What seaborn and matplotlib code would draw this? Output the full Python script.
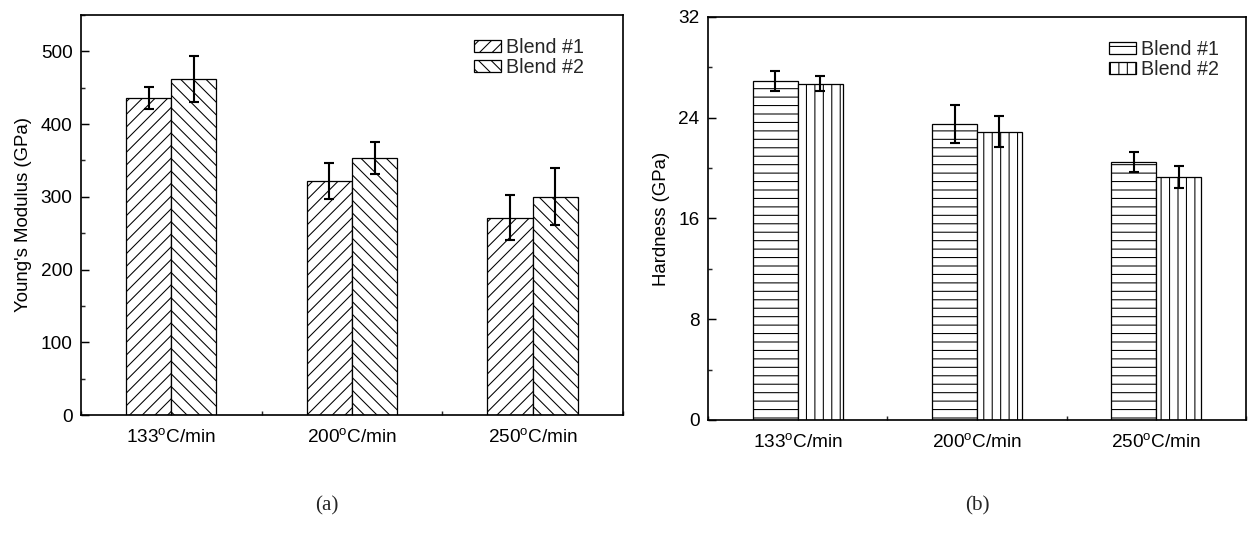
import matplotlib
matplotlib.use("Agg")
import matplotlib.pyplot as plt
from matplotlib.ticker import MultipleLocator
import seaborn as sns
import pandas as pd

categories = ["133$^{\\mathrm{o}}$C/min", "200$^{\\mathrm{o}}$C/min", "250$^{\\mathrm{o}}$C/min"]
blends = ["Blend #1", "Blend #2"]

modulus_b1 = [436, 322, 271]
modulus_b1_err = [15, 25, 31]
modulus_b2 = [462, 354, 300]
modulus_b2_err = [31, 22, 39]

hardness_b1 = [26.9, 23.5, 20.5]
hardness_b1_err = [0.8, 1.5, 0.8]
hardness_b2 = [26.7, 22.9, 19.3]
hardness_b2_err = [0.6, 1.2, 0.9]

sns.set_theme(style="white")
plt.rcParams["font.family"] = ["Liberation Sans", "DejaVu Sans"]
plt.rcParams["mathtext.fontset"] = "custom"
plt.rcParams["mathtext.rm"] = "Liberation Sans"
plt.rcParams["mathtext.it"] = "Liberation Sans:italic"
plt.rcParams["hatch.linewidth"] = 0.5
plt.rcParams["hatch.color"] = "black"

DPI = 152
fig = plt.figure(figsize=(1257 / DPI, 541 / DPI), dpi=DPI)
FS_TICK = 9.0
FS_LAB = 8.8
FS_LEG = 9.3

ax1 = fig.add_axes([0.0644, 0.2329, 0.4312, 0.7394])
ax2 = fig.add_axes([0.5633, 0.2237, 0.4279, 0.7449])


def make_df(v1, v2):
    rows = []
    for i, c in enumerate(categories):
        rows.append({"cat": c, "blend": blends[0], "val": v1[i]})
        rows.append({"cat": c, "blend": blends[1], "val": v2[i]})
    return pd.DataFrame(rows)


def draw(ax, v1, e1, v2, e2, hatches, ylim, major, minor, ylabel, legend_anchor):
    df = make_df(v1, v2)
    sns.barplot(data=df, x="cat", y="val", hue="blend", order=categories,
                hue_order=blends, palette=["white", "white"], edgecolor="black",
                linewidth=0.6, width=0.5, errorbar=None, legend=False, ax=ax)
    for cont, h, vals, errs in zip(ax.containers, hatches, [v1, v2], [e1, e2]):
        xs = []
        for bar in cont:
            bar.set_hatch(h)
            bar.set_edgecolor("black")
            xs.append(bar.get_x() + bar.get_width() / 2)
        ax.errorbar(xs, vals, yerr=errs, fmt="none", ecolor="black",
                    elinewidth=1.0, capsize=2.3, capthick=1.0, zorder=5)
    ax.set_xlim(-0.5, 2.5)
    ax.set_ylim(*ylim)
    ax.yaxis.set_major_locator(MultipleLocator(major))
    ax.yaxis.set_minor_locator(MultipleLocator(minor))
    ax.xaxis.set_minor_locator(MultipleLocator(0.5))
    ax.set_xlabel("")
    ax.set_ylabel(ylabel, fontsize=FS_LAB, color="black")
    ax.tick_params(axis="both", which="major", direction="in", length=4,
                   width=0.7, labelsize=FS_TICK, colors="black", bottom=True, left=True,
                   top=False, right=False, pad=4)
    ax.tick_params(axis="both", which="minor", direction="in", length=2,
                   width=0.7, bottom=True, left=True, top=False, right=False)
    ax.tick_params(axis="x", which="major", pad=6)
    for s in ax.spines.values():
        s.set_visible(True)
        s.set_color("black")
        s.set_linewidth(0.8)
    ax.grid(False)
    handles = list(ax.containers[:2])
    ax.legend([c[0] for c in handles], blends, loc="upper left",
              bbox_to_anchor=legend_anchor, frameon=False, fontsize=FS_LEG,
              handlelength=1.4, handleheight=0.55, handletextpad=0.25,
              labelspacing=0.05, borderaxespad=0)


draw(ax1, modulus_b1, modulus_b1_err, modulus_b2, modulus_b2_err,
     ["////", "\\\\\\\\"], (0, 550), 100, 50, "Young's Modulus (GPa)", (0.71, 0.962))
draw(ax2, hardness_b1, hardness_b1_err, hardness_b2, hardness_b2_err,
     ["---", "|||"], (0, 32), 8, 4, "Hardness (GPa)", (0.73, 0.963))

fig.text(327 / 1257, 1 - 506 / 541, "(a)", family="Liberation Serif",
         fontsize=10, ha="center", va="center")
fig.text(977 / 1257, 1 - 506 / 541, "(b)", family="Liberation Serif",
         fontsize=10, ha="center", va="center")

fig.savefig("out.png", dpi=DPI, facecolor="white")
